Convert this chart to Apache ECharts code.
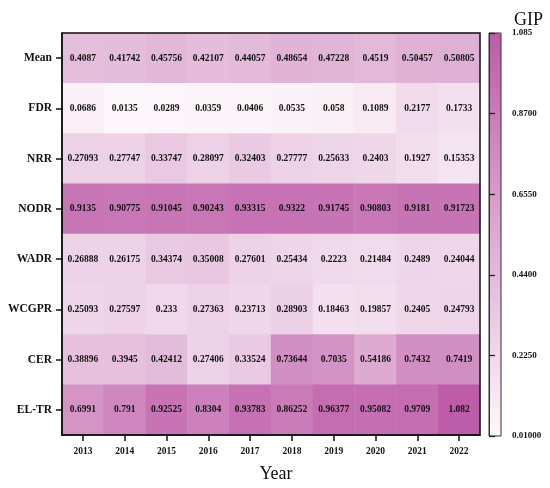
<!DOCTYPE html>
<html><head><meta charset="utf-8">
<script src="https://cdn.jsdelivr.net/npm/echarts@6/dist/echarts.min.js"></script>
<style>html,body{margin:0;padding:0;background:#fff}#c{width:550px;height:488px}</style>
</head><body><div id="c"></div>
<script>
const years = ['2013','2014','2015','2016','2017','2018','2019','2020','2021','2022'];
const indicators = ['Mean','FDR','NRR','NODR','WADR','WCGPR','CER','EL-TR'];
const Mean  = [0.4087,0.41742,0.45756,0.42107,0.44057,0.48654,0.47228,0.4519,0.50457,0.50805];
const FDR   = [0.0686,0.0135,0.0289,0.0359,0.0406,0.0535,0.058,0.1089,0.2177,0.1733];
const NRR   = [0.27093,0.27747,0.33747,0.28097,0.32403,0.27777,0.25633,0.2403,0.1927,0.15353];
const NODR  = [0.9135,0.90775,0.91045,0.90243,0.93315,0.9322,0.91745,0.90803,0.9181,0.91723];
const WADR  = [0.26888,0.26175,0.34374,0.35008,0.27601,0.25434,0.2223,0.21484,0.2489,0.24044];
const WCGPR = [0.25093,0.27597,0.233,0.27363,0.23713,0.28903,0.18463,0.19857,0.2405,0.24793];
const CER   = [0.38896,0.3945,0.42412,0.27406,0.33524,0.73644,0.7035,0.54186,0.7432,0.7419];
const ELTR  = [0.6991,0.791,0.92525,0.8304,0.93783,0.86252,0.96377,0.95082,0.9709,1.082];
const colorMin = 0.01, colorMax = 1.085;
const colorbarTicks = ['0.01000','0.2250','0.4400','0.6550','0.8700','1.085'];

const rows = [Mean,FDR,NRR,NODR,WADR,WCGPR,CER,ELTR];
const data = [];
rows.forEach((r,i)=>r.forEach((v,j)=>data.push([j,i,v])));
const serif = 'Liberation Serif';
const chart = echarts.init(document.getElementById('c'));
chart.setOption({
  backgroundColor:'#fff',
  animation:false,
  title:[
    {text:'GIP', left:509, top:6, textStyle:{fontFamily:serif,fontSize:18,fontWeight:'normal',color:'#111'}},
    {text:'Year', left:271, top:460, textAlign:'center', textStyle:{fontFamily:serif,fontSize:18,fontWeight:'normal',color:'#111'}}
  ],
  grid:[
    {left:62, right:70, top:33, bottom:53, show:true, borderColor:'#111', borderWidth:1.5, backgroundColor:'transparent', z:10},
    {left:489, width:12, top:33, height:403, show:true, borderColor:'#333', borderWidth:1, backgroundColor:'transparent', z:10}
  ],
  xAxis:[
    {type:'category', data:years, gridIndex:0, position:'bottom',
     axisLine:{show:true,lineStyle:{color:'#111',width:1.5}},
     axisTick:{show:true,alignWithLabel:true,inside:false,length:6,lineStyle:{width:1.5,color:'#111'}},
     axisLabel:{fontFamily:serif,fontWeight:'bold',fontSize:9.5,color:'#111',margin:12}, splitLine:{show:false}, z:10},
    {type:'value', gridIndex:1, show:false, min:0, max:1}
  ],
  yAxis:[
    {type:'category', data:indicators, inverse:true, gridIndex:0,
     axisLine:{show:true,lineStyle:{color:'#111',width:1.5}},
     axisTick:{show:true,alignWithLabel:true,inside:false,length:6,lineStyle:{width:1.5,color:'#111'}},
     axisLabel:{fontFamily:serif,fontWeight:'bold',fontSize:11.5,color:'#111',margin:10}, splitLine:{show:false}, z:10},
    {type:'value', gridIndex:1, position:'right', min:0, max:5, interval:1,
     axisLine:{show:true,lineStyle:{color:'#333',width:1}},
     axisTick:{show:true,inside:false,length:6,lineStyle:{color:'#222',width:1.3}},
     axisLabel:{show:true,fontFamily:serif,fontWeight:'bold',fontSize:9,color:'#111',margin:11,formatter:(v)=>colorbarTicks[Math.round(v)]},
     splitLine:{show:false}, z:10}
  ],
  visualMap:{
    type:'continuous', min:colorMin, max:colorMax, calculable:false, orient:'vertical',
    left:489, top:33, itemWidth:12, itemHeight:403, padding:0, text:['',''], showLabel:false,
    inRange:{color:['#fdf8fb','#bd5ca8']}, seriesIndex:0
  },
  series:[{
    type:'heatmap', xAxisIndex:0, yAxisIndex:0, data:data,
    label:{show:true, fontFamily:serif, fontWeight:'bold', fontSize:9.5, color:'#111', formatter:(p)=>String(p.value[2])},
    itemStyle:{borderWidth:0}
  }]
});
</script></body></html>
